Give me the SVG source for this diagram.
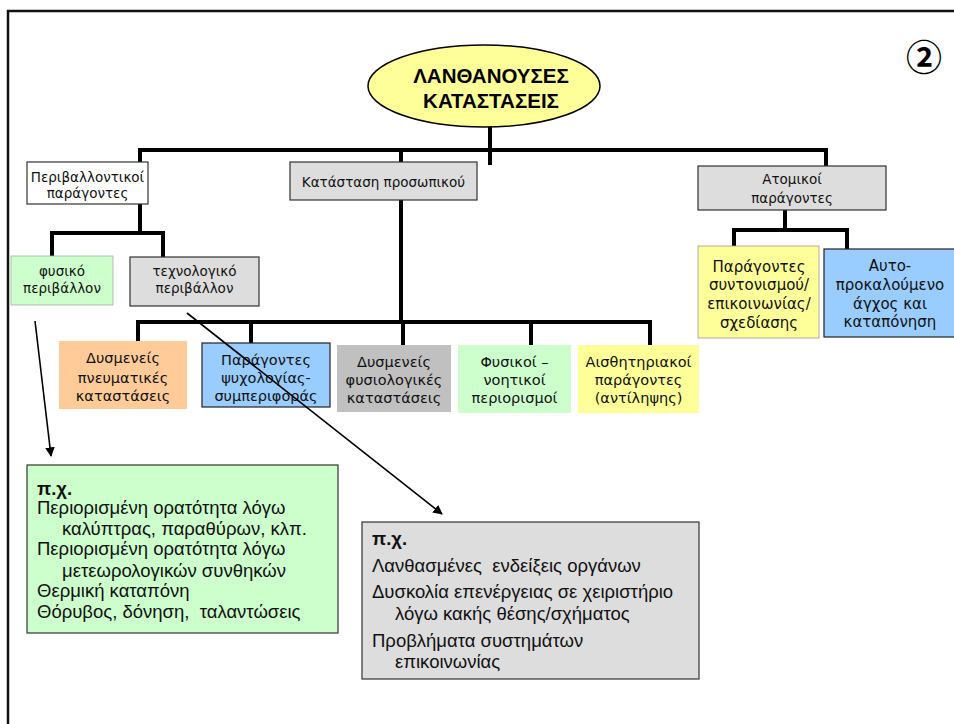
<svg xmlns="http://www.w3.org/2000/svg" width="954" height="724" viewBox="0 0 954 724">
  <style>
    .frame { fill: none; stroke: #111; stroke-width: 2.5; }
    .bus { fill: none; stroke: #000; stroke-width: 4; stroke-linecap: square; }
    .ptr { fill: none; stroke: #000; stroke-width: 1.6; }
    .box { stroke: #333; stroke-width: 1.2; }
    .t { font-family: "DejaVu Sans", "Liberation Sans", sans-serif; fill: #111; text-anchor: middle; }
    .s14 { font-size: 13.5px; }
    .s15 { font-size: 14.5px; }
    .s16 { font-size: 15px; }
    .ex { font-family: "Liberation Sans", Arial, sans-serif; font-size: 18.5px; fill: #111; }
    .exb { font-weight: bold; }
    .title { font-family: "Liberation Sans", Arial, sans-serif; font-weight: bold; font-size: 20.5px; fill: #000; text-anchor: middle; }
  </style>
  <defs>
    <marker id="head" viewBox="0 0 10 10" refX="9" refY="5" markerWidth="6" markerHeight="6" orient="auto" markerUnits="strokeWidth">
      <path d="M0,0 L10,5 L0,10 z" fill="#000"/>
    </marker>
  </defs>

  <rect width="954" height="724" fill="#fff"/>
  <!-- page frame (top and left edges) -->
  <path class="frame" d="M8,724 V11 H954"/>

  <!-- page number -->
  <text x="924" y="71" font-family="'Noto Sans CJK JP', 'DejaVu Sans', sans-serif" font-weight="bold" font-size="36" text-anchor="middle" fill="#000">②</text>

  <!-- connectors -->
  <g id="connectors">
    <path class="bus" d="M490,128 V163"/>
    <path class="bus" d="M140,150 H826"/>
    <path class="bus" d="M140,150 V161"/>
    <path class="bus" d="M401,150 V161"/>
    <path class="bus" d="M826,150 V165"/>
    <!-- environmental factors branch -->
    <path class="bus" d="M140,205 V233 M52,233 H163 M52,233 V256 M163,233 V256"/>
    <!-- personnel state branch -->
    <path class="bus" d="M401,201 V322 M138,322 H650 M138,322 V340 M251,322 V342 M403,322 V344 M531,322 V344 M650,322 V344"/>
    <!-- individual factors branch -->
    <path class="bus" d="M785,211 V230 M734,230 H847 M734,230 V245 M847,230 V248"/>
    <!-- example pointers -->
    <line class="ptr" x1="35" y1="321" x2="51" y2="456" marker-end="url(#head)"/>
  </g>

  <g id="root">
    <ellipse cx="484" cy="86" rx="116" ry="41" fill="#FFFF99" stroke="#000" stroke-width="1.5"/>
    <text class="title" x="491" y="83">ΛΑΝΘΑΝΟΥΣΕΣ</text>
    <text class="title" x="491" y="108">ΚΑΤΑΣΤΑΣΕΙΣ</text>
  </g>

  <g id="environmental">
    <rect class="box" x="27" y="162" width="121" height="42" fill="#fff"/>
    <text class="t s14" x="87.5" y="182">Περιβαλλοντικοί</text>
    <text class="t s14" x="87.5" y="198">παράγοντες</text>
  </g>

  <g id="personnel">
    <rect class="box" x="290" y="162" width="187" height="38" fill="#DDDDDD"/>
    <text class="t s14" x="383.5" y="187">Κατάσταση προσωπικού</text>
  </g>

  <g id="individual">
    <rect class="box" x="698" y="166" width="188" height="44" fill="#DDDDDD"/>
    <text class="t s14" x="792" y="184">Ατομικοί</text>
    <text class="t s14" x="792" y="203">παράγοντες</text>
  </g>

  <g id="physical-env">
    <rect x="11" y="256" width="102" height="49" fill="#CCFFCC" stroke="#aaa" stroke-width="0.8"/>
    <text class="t s14" x="62" y="276">φυσικό</text>
    <text class="t s14" x="62" y="293">περιβάλλον</text>
  </g>

  <g id="tech-env">
    <rect class="box" x="130" y="257" width="129" height="49" fill="#DDDDDD"/>
    <text class="t s14" x="194.5" y="276">τεχνολογικό</text>
    <text class="t s14" x="194.5" y="293">περιβάλλον</text>
  </g>

  <g id="mental">
    <rect x="59" y="341" width="128" height="68" fill="#FFCC99"/>
    <text class="t s15" x="123" y="363">Δυσμενείς</text>
    <text class="t s15" x="123" y="383">πνευματικές</text>
    <text class="t s15" x="123" y="401">καταστάσεις</text>
  </g>

  <g id="psychology">
    <rect x="202" y="343" width="128" height="64" fill="#99CCFF" stroke="#222" stroke-width="1.2"/>
    <text class="t s15" x="266" y="365">Παράγοντες</text>
    <text class="t s15" x="266" y="383">ψυχολογίας-</text>
    <text class="t s15" x="266" y="401">συμπεριφοράς</text>
  </g>

  <g id="physiological">
    <rect x="337" y="345" width="114" height="67" fill="#C0C0C0"/>
    <text class="t s15" x="394" y="367">Δυσμενείς</text>
    <text class="t s15" x="394" y="385">φυσιολογικές</text>
    <text class="t s15" x="394" y="403">καταστάσεις</text>
  </g>

  <g id="limitations">
    <rect x="458" y="345" width="113" height="68" fill="#CCFFCC"/>
    <text class="t s15" x="514.5" y="367">Φυσικοί –</text>
    <text class="t s15" x="514.5" y="385">νοητικοί</text>
    <text class="t s15" x="514.5" y="403">περιορισμοί</text>
  </g>

  <g id="perception">
    <rect x="578" y="345" width="121" height="68" fill="#FFFF99"/>
    <text class="t s15" x="638.5" y="367">Αισθητηριακοί</text>
    <text class="t s15" x="638.5" y="385">παράγοντες</text>
    <text class="t s15" x="638.5" y="403">(αντίληψης)</text>
  </g>

  <g id="coordination">
    <rect x="698" y="246" width="121" height="92" fill="#FFFF99" stroke="#999" stroke-width="0.8"/>
    <text class="t s16" x="759" y="272">Παράγοντες</text>
    <text class="t s16" x="759" y="290">συντονισμού/</text>
    <text class="t s16" x="759" y="309">επικοινωνίας/</text>
    <text class="t s16" x="759" y="328">σχεδίασης</text>
  </g>

  <g id="self-stress">
    <rect x="824" y="249" width="132" height="88" fill="#99CCFF" stroke="#222" stroke-width="1.2"/>
    <text class="t s16" x="890" y="271">Αυτο-</text>
    <text class="t s16" x="890" y="290">προκαλούμενο</text>
    <text class="t s16" x="890" y="309">άγχος και</text>
    <text class="t s16" x="890" y="327">καταπόνηση</text>
  </g>

  <g id="env-examples">
    <rect x="27" y="465" width="311" height="168" fill="#CCFFCC" stroke="#333" stroke-width="1.2"/>
    <text class="ex exb" x="37" y="495">π.χ.</text>
    <text class="ex" x="37" y="514">Περιορισμένη ορατότητα λόγω</text>
    <text class="ex" x="62" y="535">καλύπτρας, παραθύρων, κλπ.</text>
    <text class="ex" x="37" y="555">Περιορισμένη ορατότητα λόγω</text>
    <text class="ex" x="62" y="577">μετεωρολογικών συνθηκών</text>
    <text class="ex" x="37" y="597">Θερμική καταπόνη</text>
    <text class="ex" x="37" y="618" xml:space="preserve">Θόρυβος, δόνηση,  ταλαντώσεις</text>
  </g>

  <g id="tech-examples">
    <rect x="362" y="522" width="337" height="157" fill="#DDDDDD" stroke="#333" stroke-width="1.2"/>
    <text class="ex exb" x="372" y="545">π.χ.</text>
    <text class="ex" x="372" y="572" xml:space="preserve">Λανθασμένες  ενδείξεις οργάνων</text>
    <text class="ex" x="372" y="598">Δυσκολία επενέργειας σε χειριστήριο</text>
    <text class="ex" x="395" y="620">λόγω κακής θέσης/σχήματος</text>
    <text class="ex" x="372" y="647">Προβλήματα συστημάτων</text>
    <text class="ex" x="395" y="668">επικοινωνίας</text>
  </g>

  <!-- pointer drawn over the boxes it crosses -->
  <g id="connectors-over">
    <line class="ptr" x1="187" y1="313" x2="442" y2="514" marker-end="url(#head)"/>
  </g>
</svg>
